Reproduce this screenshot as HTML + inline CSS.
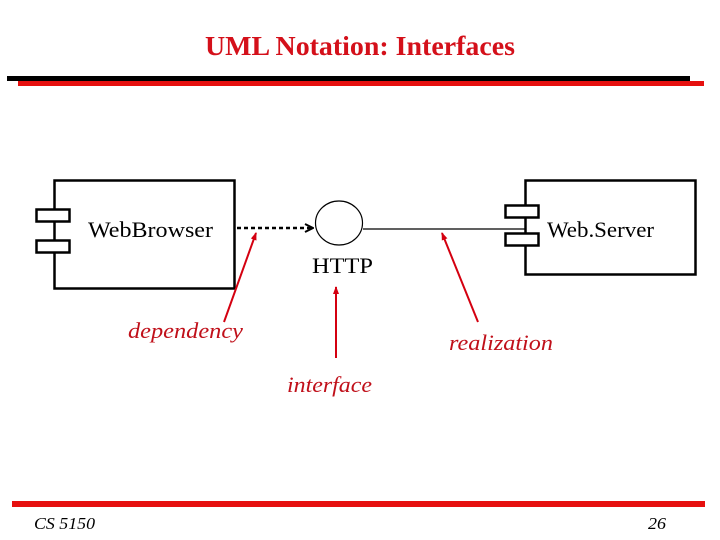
<!DOCTYPE html>
<html><head><style>body{margin:0;background:#fff}svg{display:block}</style></head>
<body>
<svg width="720" height="540" viewBox="0 0 720 540" xmlns="http://www.w3.org/2000/svg">
<defs>
<marker id="ra" markerWidth="8" markerHeight="8" refX="7" refY="4" orient="auto" markerUnits="userSpaceOnUse"><path d="M0,1 L8,4 L0,7 Z" fill="#d40010"/></marker>
<marker id="ka" markerWidth="10" markerHeight="10" refX="9" refY="5" orient="auto" markerUnits="userSpaceOnUse"><path d="M1,1 L9,5 L1,9" fill="none" stroke="#000" stroke-width="2"/></marker>
</defs>
<text x="205" y="55" textLength="310" lengthAdjust="spacingAndGlyphs" font-family="Liberation Serif" font-weight="bold" font-size="27" fill="#d4101a">UML Notation: Interfaces</text>
<rect x="7" y="76" width="683" height="5" fill="#000"/>
<rect x="18" y="81" width="686" height="5" fill="#e6100f"/>
<g fill="none" stroke="#000" stroke-width="2.5">
<rect x="54.5" y="180.5" width="180" height="108"/>
<rect x="36.5" y="209.5" width="33" height="12" fill="#fff"/>
<rect x="36.5" y="240.5" width="33" height="12" fill="#fff"/>
<rect x="525.5" y="180.5" width="170" height="94"/>
<rect x="505.5" y="205.5" width="33" height="12" fill="#fff"/>
<rect x="505.5" y="233.5" width="33" height="12" fill="#fff"/>
</g>
<ellipse cx="339" cy="223" rx="23.5" ry="22" fill="none" stroke="#000" stroke-width="1.2"/>
<line x1="237" y1="228" x2="313" y2="228" stroke="#000" stroke-width="2.5" stroke-dasharray="4,3" marker-end="url(#ka)"/>
<line x1="363" y1="229" x2="525" y2="229" stroke="#000" stroke-width="1.2"/>
<g font-family="Liberation Serif" font-size="22" fill="#000" lengthAdjust="spacingAndGlyphs">
<text x="88" y="237" textLength="125" lengthAdjust="spacingAndGlyphs">WebBrowser</text>
<text x="547" y="237" textLength="107" lengthAdjust="spacingAndGlyphs">Web.Server</text>
<text x="312" y="273" textLength="61" lengthAdjust="spacingAndGlyphs">HTTP</text>
</g>
<g stroke="#d40010" stroke-width="2">
<line x1="224" y1="322" x2="256" y2="233" marker-end="url(#ra)"/>
<line x1="336" y1="358" x2="336" y2="287" marker-end="url(#ra)"/>
<line x1="478" y1="322" x2="442" y2="233" marker-end="url(#ra)"/>
</g>
<g font-family="Liberation Serif" font-style="italic" font-size="22" fill="#c0101a">
<text x="128" y="338" textLength="115" lengthAdjust="spacingAndGlyphs">dependency</text>
<text x="449" y="350" textLength="104" lengthAdjust="spacingAndGlyphs">realization</text>
<text x="287" y="392" textLength="85" lengthAdjust="spacingAndGlyphs">interface</text>
</g>
<rect x="12" y="501" width="693" height="6" fill="#e6100f"/>
<g font-family="Liberation Serif" font-style="italic" font-size="17" fill="#000">
<text x="34" y="529" textLength="61" lengthAdjust="spacingAndGlyphs">CS 5150</text>
<text x="648" y="529" textLength="18" lengthAdjust="spacingAndGlyphs">26</text>
</g>
</svg>
</body></html>
